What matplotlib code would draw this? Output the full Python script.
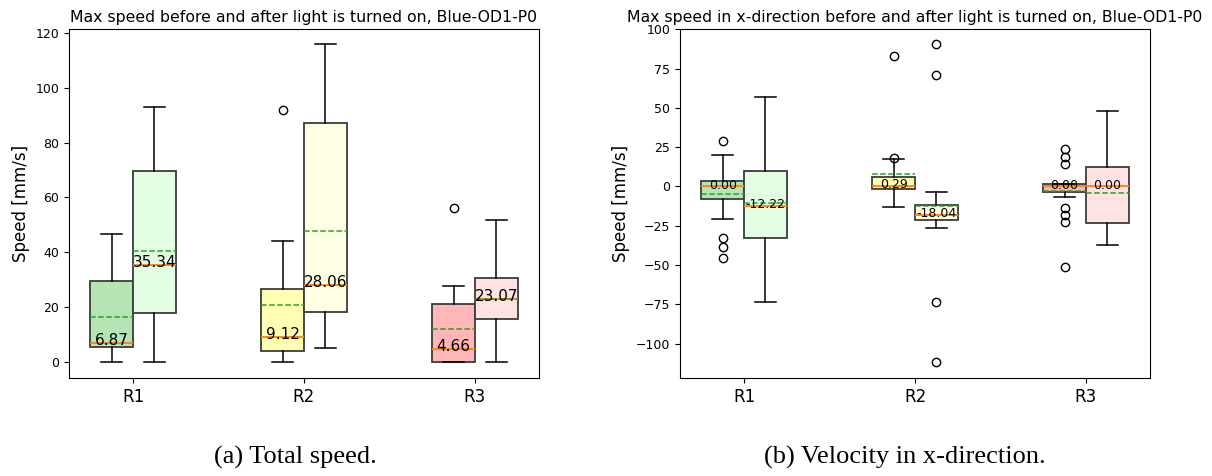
import matplotlib
matplotlib.use("Agg")
import matplotlib.pyplot as plt

regions = ["R1", "R2", "R3"]

# Total speed (mm/s)
speed_before_med = [6.87, 9.12, 4.66]
speed_before_q1 = [5.5, 4.0, 0.0]
speed_before_q3 = [29.5, 26.4, 21.2]
speed_before_wlo = [0.0, 0.0, 0.0]
speed_before_whi = [46.8, 44.0, 27.7]
speed_before_mean = [16.5, 20.9, 11.9]
speed_before_fliers = [[], [91.7], [56.1]]

speed_after_med = [35.34, 28.06, 23.07]
speed_after_q1 = [17.9, 18.0, 15.5]
speed_after_q3 = [69.5, 87.0, 30.5]
speed_after_wlo = [0.0, 5.0, 0.0]
speed_after_whi = [93.0, 115.8, 51.6]
speed_after_mean = [40.6, 47.9, 23.0]
speed_after_fliers = [[], [], []]

# Velocity in x-direction (mm/s)
vx_before_med = [0.00, 0.29, 0.00]
vx_before_q1 = [-8.1, -1.9, -3.8]
vx_before_q3 = [3.2, 6.3, 1.3]
vx_before_wlo = [-20.4, -13.2, -6.6]
vx_before_whi = [19.9, 17.2, 1.5]
vx_before_mean = [-4.5, 7.8, -3.0]
vx_before_fliers = [[29.2, -33.0, -38.4, -45.4], [82.9, 18.2],
                    [23.7, 18.9, 14.2, -14.0, -18.3, -22.5, -51.1]]

vx_after_med = [-12.22, -18.04, 0.00]
vx_after_q1 = [-32.5, -21.4, -23.1]
vx_after_q3 = [9.7, -11.7, 12.3]
vx_after_wlo = [-73.4, -26.3, -37.3]
vx_after_whi = [57.2, -3.4, 47.9]
vx_after_mean = [-10.5, -12.5, -4.1]
vx_after_fliers = [[], [90.5, 71.2, -73.8, -111.8], []]

before_colors = ["#b5e5b5", "#ffffb3", "#ffb6b6"]
after_colors = ["#e2fde2", "#ffffe3", "#ffe2e2"]

titles = ["Max speed before and after light is turned on, Blue-OD1-P0",
          "Max speed in x-direction before and after light is turned on, Blue-OD1-P0"]
captions = ["(a) Total speed.", "(b) Velocity in x-direction."]
ylabel = "Speed [mm/s]"


def make_stats(med, q1, q3, wlo, whi, mean, fliers):
    out = []
    for i in range(len(med)):
        out.append(dict(med=med[i], q1=q1[i], q3=q3[i], whislo=wlo[i],
                        whishi=whi[i], mean=mean[i], fliers=fliers[i]))
    return out


fig = plt.figure(figsize=(12.12, 4.76), dpi=100)
ax_l = fig.add_axes([69 / 1212, 98 / 476, 470 / 1212, 349 / 476])
ax_r = fig.add_axes([680 / 1212, 98 / 476, 470 / 1212, 349 / 476])

panels = [
    (ax_l,
     make_stats(speed_before_med, speed_before_q1, speed_before_q3, speed_before_wlo,
                speed_before_whi, speed_before_mean, speed_before_fliers),
     make_stats(speed_after_med, speed_after_q1, speed_after_q3, speed_after_wlo,
                speed_after_whi, speed_after_mean, speed_after_fliers),
     11),
    (ax_r,
     make_stats(vx_before_med, vx_before_q1, vx_before_q3, vx_before_wlo,
                vx_before_whi, vx_before_mean, vx_before_fliers),
     make_stats(vx_after_med, vx_after_q1, vx_after_q3, vx_after_wlo,
                vx_after_whi, vx_after_mean, vx_after_fliers),
     9),
]

w = 0.25
for k, (ax, sb, sa, lfs) in enumerate(panels):
    centers = list(range(1, len(regions) + 1))
    for stats, offs, cols in ((sb, -w / 2, before_colors), (sa, w / 2, after_colors)):
        pos = [c + offs for c in centers]
        bp = ax.bxp(stats, positions=pos, widths=w, patch_artist=True,
                    showmeans=True, meanline=True, manage_ticks=False,
                    boxprops=dict(edgecolor="#3c3c3c", linewidth=1.3),
                    whiskerprops=dict(color="black", linewidth=1.1),
                    capprops=dict(color="black", linewidth=1.1),
                    medianprops=dict(color="#ff7f0e", linewidth=1.3),
                    meanprops=dict(color="#2ca02c", linestyle="--", linewidth=1.1),
                    flierprops=dict(marker="o", markerfacecolor="none",
                                    markeredgecolor="black", markersize=6))
        for patch, c in zip(bp["boxes"], cols):
            patch.set_facecolor(c)
        for p, st in zip(pos, stats):
            ax.annotate(f"{st['med']:.2f}", xy=(p, st["med"]), xytext=(0, -1.5),
                        textcoords="offset points", ha="center", va="baseline",
                        fontsize=lfs, color="black")
    ax.set_xticks(centers)
    ax.set_xticklabels(regions, fontsize=12)
    ax.set_xlim(0.625, 3.375)
    ax.tick_params(axis="y", labelsize=9)
    ax.set_ylabel(ylabel, fontsize=12)
    ax.set_title(titles[k], fontsize=11.3, pad=5)

ax_r.set_yticks([-100, -75, -50, -25, 0, 25, 50, 75, 100])
ax_r.set_ylim(-121.9, 100.2)
ax_l.set_ylim(-5.9, 121.4)

fig.text(295 / 1212, 1 - 457 / 476, captions[0], ha="center", va="center",
         fontsize=19, family="Liberation Serif")
fig.text(905 / 1212, 1 - 457 / 476, captions[1], ha="center", va="center",
         fontsize=19, family="Liberation Serif")

fig.savefig("out.png", dpi=100)
